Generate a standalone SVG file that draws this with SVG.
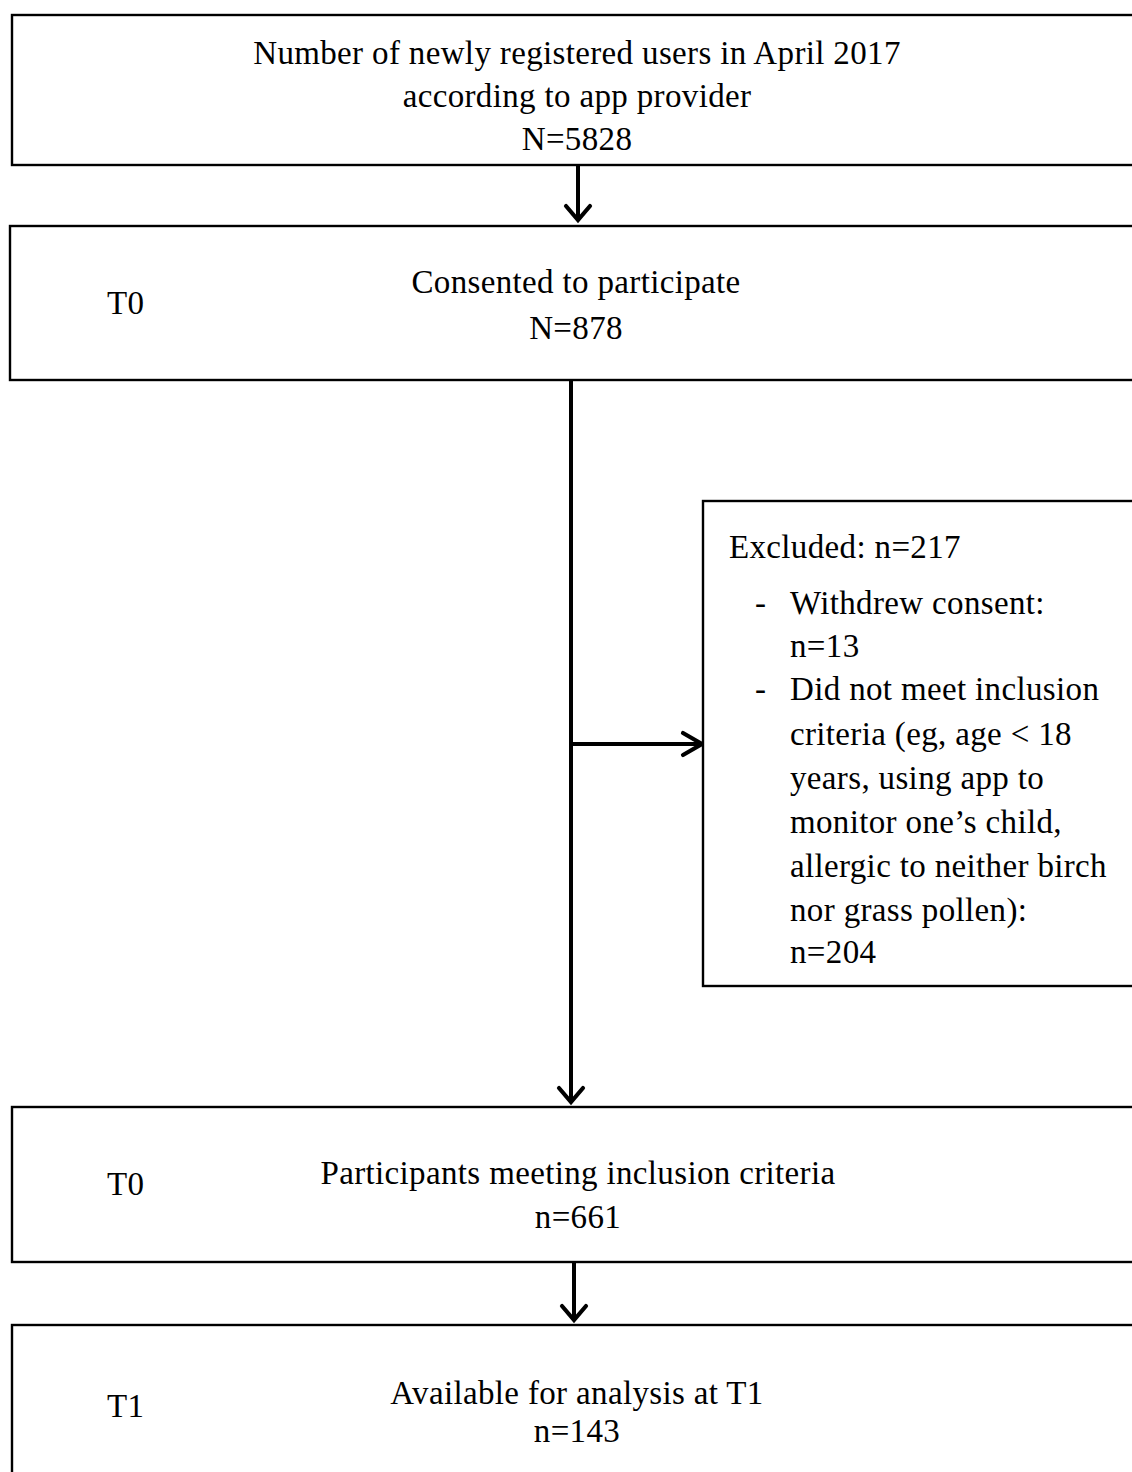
<svg xmlns="http://www.w3.org/2000/svg" width="1132" height="1472" viewBox="0 0 1132 1472">
<style>
.box{fill:#fff;stroke:#000;stroke-width:2.4}
.t{font-family:"Liberation Serif","Times New Roman",serif;font-size:33px;letter-spacing:0.35px;fill:#000}
.c{text-anchor:middle}
.ln{stroke:#000;stroke-width:4;fill:none}
.ah{stroke:#000;stroke-width:4.2;fill:none;stroke-linecap:round;stroke-linejoin:miter}
</style>
<rect width="1132" height="1472" fill="#fff"/>
<g id="connectors">
<line class="ln" x1="578" y1="165" x2="578" y2="218"/>
<path class="ah" d="M566,206 L578,220 L590,206"/>
<line class="ln" x1="571" y1="380" x2="571" y2="1100"/>
<path class="ah" d="M559,1088 L571,1102 L583,1088"/>
<line class="ln" x1="571" y1="744" x2="701" y2="744"/>
<path class="ah" d="M683,733 L702,744 L683,755"/>
<line class="ln" x1="574" y1="1262" x2="574" y2="1318"/>
<path class="ah" d="M562,1306 L574,1320 L586,1306"/>
</g>
<g id="n1">
<rect class="box" x="12" y="15" width="1130" height="150"/>
<text class="t c" x="577" y="64">Number of newly registered users in April 2017</text>
<text class="t c" x="577" y="107">according to app provider</text>
<text class="t c" x="577" y="150">N=5828</text>
</g>
<g id="n2">
<rect class="box" x="10" y="226" width="1132" height="154"/>
<text class="t" x="107" y="314">T0</text>
<text class="t c" x="576" y="293">Consented to participate</text>
<text class="t c" x="576" y="339">N=878</text>
</g>
<g id="n3">
<rect class="box" x="703" y="501" width="439" height="485"/>
<text class="t" x="729" y="558">Excluded: n=217</text>
<text class="t" x="755" y="614">-</text>
<text class="t" x="790" y="614">Withdrew consent:</text>
<text class="t" x="790" y="657">n=13</text>
<text class="t" x="755" y="700">-</text>
<text class="t" x="790" y="700">Did not meet inclusion</text>
<text class="t" x="790" y="745">criteria (eg, age &lt; 18</text>
<text class="t" x="790" y="789">years, using app to</text>
<text class="t" x="790" y="833">monitor one’s child,</text>
<text class="t" x="790" y="877">allergic  to neither birch</text>
<text class="t" x="790" y="921">nor grass pollen):</text>
<text class="t" x="790" y="963">n=204</text>
</g>
<g id="n4">
<rect class="box" x="12" y="1107" width="1130" height="155"/>
<text class="t" x="107" y="1195">T0</text>
<text class="t c" x="578" y="1184">Participants meeting inclusion criteria</text>
<text class="t c" x="578" y="1228">n=661</text>
</g>
<g id="n5">
<rect class="box" x="12" y="1325" width="1130" height="160"/>
<text class="t" x="107" y="1417">T1</text>
<text class="t c" x="577" y="1404">Available  for analysis at T1</text>
<text class="t c" x="577" y="1442">n=143</text>
</g>
</svg>
